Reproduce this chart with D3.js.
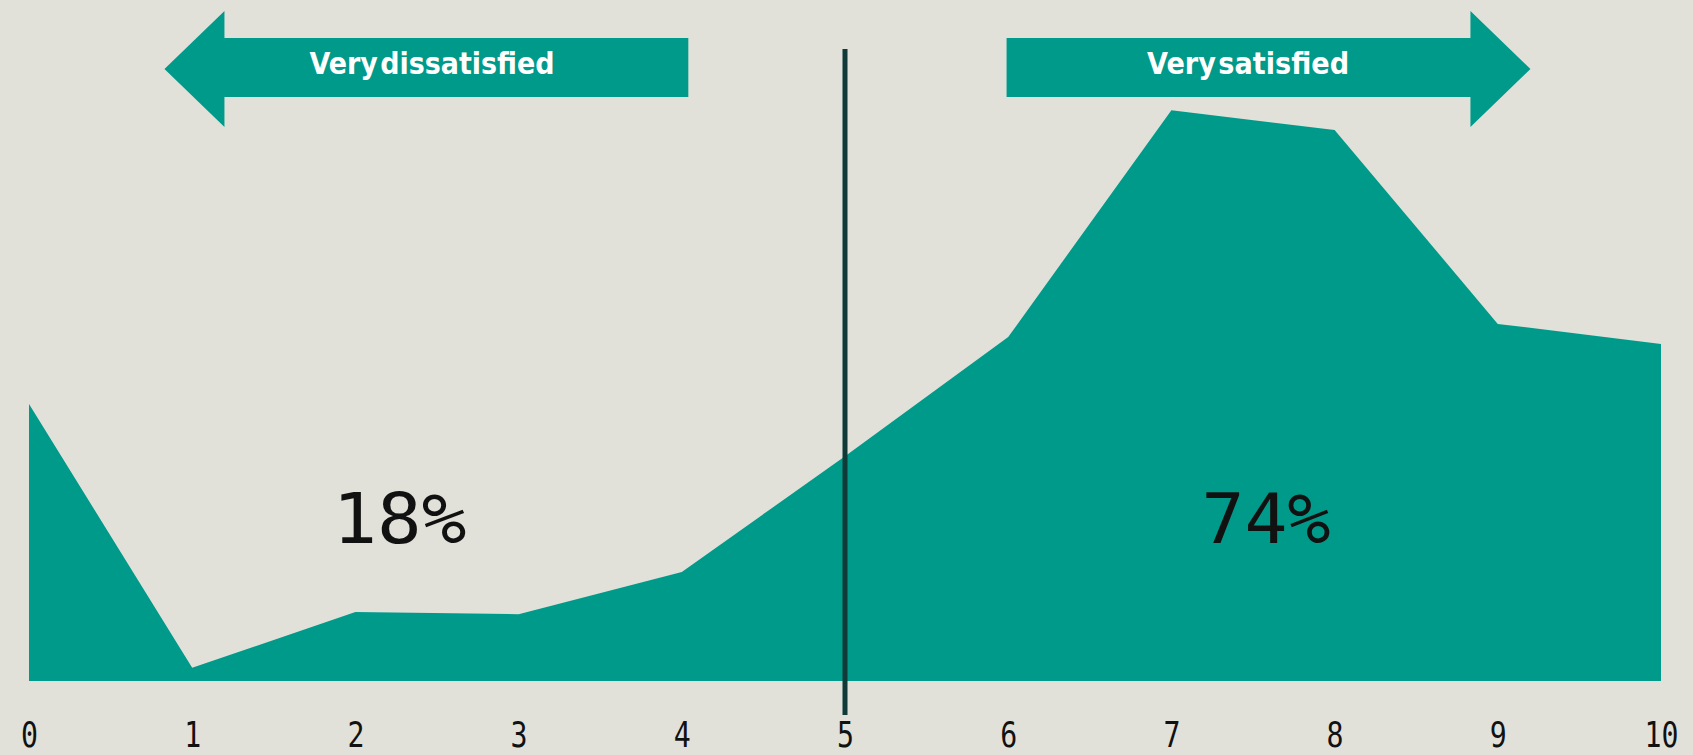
<!DOCTYPE html>
<html>
<head>
<meta charset="utf-8">
<script src="https://cdn.jsdelivr.net/npm/d3@7"></script>
<style>
  html, body { margin: 0; padding: 0; background: #e1e1da; }
  svg { display: block; }
</style>
</head>
<body>
<div id="chart"></div>
<script>
// Satisfaction score (0–10) and share of respondents (%) at each score
const scores = [0, 1, 2, 3, 4, 5, 6, 7, 8, 9, 10];
const shares = [9.49, 0.45, 2.36, 2.29, 3.73, 7.7, 11.78, 19.55, 18.87, 12.23, 11.54];
const tickLabels = ["0", "1", "2", "3", "4", "5", "6", "7", "8", "9", "10"];

// Summary totals on each side of the neutral score
const groupLabels = ["18%", "74%"];
const groupCentres = [2.27, 7.58];
const neutralScore = 5;

// Direction arrows: start and end on the score axis, text centre
const arrowNames = ["Very dissatisfied", "Very satisfied"];
const arrowFrom = [4.04, 5.99];
const arrowTo = [0.83, 9.2];
const arrowTextAt = [2.47, 7.47];

const W = 1693, H = 755;
const teal = "#009a8a";

const svg = d3.select("#chart").append("svg")
  .attr("width", W).attr("height", H);

svg.append("rect").attr("width", W).attr("height", H).attr("fill", "#e1e1da");

const x = d3.scaleLinear().domain([0, 10]).range([29, 1661]);
const y = d3.scaleLinear().domain([0, 20]).range([681, 97]);

// Distribution area
const area = d3.area()
  .x((d, i) => x(scores[i]))
  .y0(y(0))
  .y1(d => y(d));

svg.append("path")
  .datum(shares)
  .attr("d", area)
  .attr("fill", teal);

// Score axis labels
const axis = d3.axisBottom(x)
  .tickValues(scores)
  .tickFormat((d, i) => tickLabels[i])
  .tickSize(0)
  .tickPadding(0);

const gAxis = svg.append("g")
  .attr("transform", `translate(0, 747)`)
  .call(axis);
gAxis.select(".domain").remove();
gAxis.selectAll("text")
  .attr("dy", null)
  .attr("y", 0)
  .attr("font-family", "'DejaVu Sans Mono', 'Liberation Mono', monospace")
  .attr("font-size", 35)
  .attr("fill", "#111")
  .attr("textLength", (d, i) => tickLabels[i].length * 17)
  .attr("lengthAdjust", "spacingAndGlyphs");

// Neutral divider
svg.append("line")
  .attr("x1", x(neutralScore)).attr("x2", x(neutralScore))
  .attr("y1", 49).attr("y2", 715)
  .attr("stroke", "#0f3a38")
  .attr("stroke-width", 5);

// Group totals
const totalWidths = [134, 129];
svg.selectAll("text.total")
  .data(groupLabels)
  .join("text")
  .attr("class", "total")
  .attr("x", (d, i) => x(groupCentres[i]))
  .attr("y", 543)
  .attr("text-anchor", "middle")
  .attr("font-family", "'DejaVu Sans Mono', 'Liberation Mono', monospace")
  .attr("font-size", 70)
  .attr("fill", "#111")
  .attr("textLength", (d, i) => totalWidths[i])
  .attr("lengthAdjust", "spacingAndGlyphs")
  .text(d => d);

// Arrows
const shaftTop = 38, shaftBot = 97, headTop = 11, headBot = 127, headLen = 60;
const mid = (headTop + headBot) / 2;
const nameWidths = [245, 202];

arrowNames.forEach((name, i) => {
  const x0 = x(arrowFrom[i]);
  const x1 = x(arrowTo[i]);
  const dir = Math.sign(x1 - x0);
  const xb = x1 - dir * headLen;
  const pts = [
    [x0, shaftTop], [xb, shaftTop], [xb, headTop], [x1, mid],
    [xb, headBot], [xb, shaftBot], [x0, shaftBot]
  ];
  svg.append("path")
    .attr("d", d3.line()(pts) + "Z")
    .attr("fill", teal);

  svg.append("text")
    .attr("x", x(arrowTextAt[i]))
    .attr("y", 74)
    .attr("text-anchor", "middle")
    .attr("font-family", "'Liberation Sans Narrow', 'DejaVu Sans Condensed', sans-serif")
    .attr("font-weight", "bold")
    .attr("font-size", 30)
    .attr("fill", "#ffffff")
    .attr("word-spacing", -7)
    .attr("textLength", nameWidths[i])
    .attr("lengthAdjust", "spacingAndGlyphs")
    .text(name);
});
</script>
</body>
</html>
